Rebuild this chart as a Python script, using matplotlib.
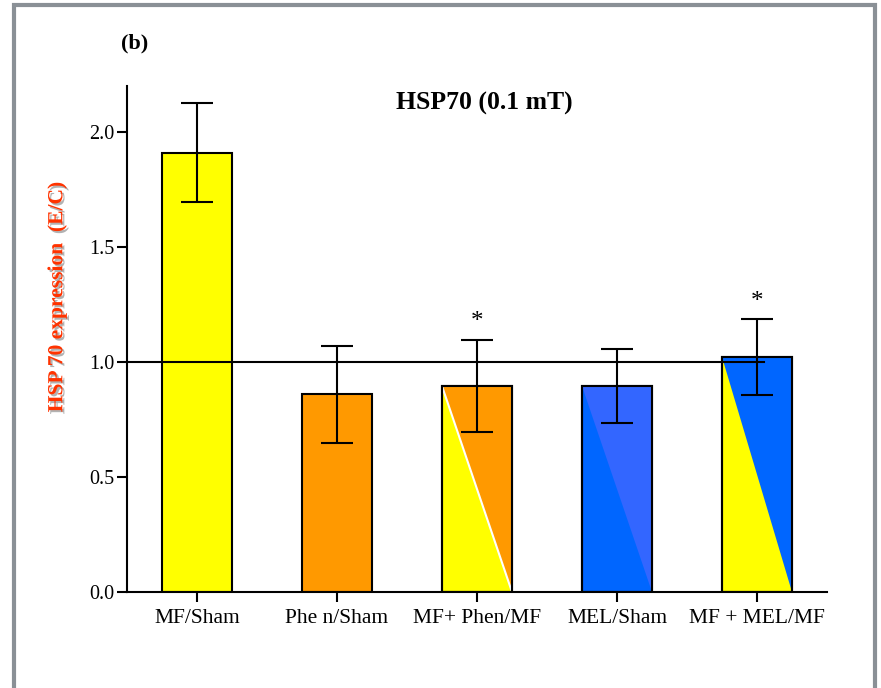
import matplotlib
matplotlib.use("Agg")
import matplotlib.pyplot as plt
import matplotlib.patheffects as pe
from matplotlib.patches import Rectangle

categories = ["MF/Sham", "Phe n/Sham", "MF+ Phen/MF", "MEL/Sham", "MF + MEL/MF"]
values = [1.91, 0.86, 0.895, 0.895, 1.02]
errors = [0.215, 0.21, 0.20, 0.16, 0.165]
significant = [False, False, True, False, True]
ref_level = 1.0

base_colors = ["#FFFF00", "#FF9900", "#FFFF00", "#0066FF", "#FFFF00"]
tri_colors = [None, None, "#FF9900", "#3366FF", "#0066FF"]

plt.rcParams['font.family'] = ['Liberation Serif', 'DejaVu Serif']

fig = plt.figure(figsize=(8.81, 6.88), dpi=100)
ax = fig.add_axes([0.1442, 0.1395, 0.7945, 0.7355])

x = list(range(len(categories)))
width = 0.5
ax.bar(x, values, width=width, color=base_colors, edgecolor="black", linewidth=1.5, zorder=2)

# diagonal triangles (upper-right part)
for xi, v, tc in zip(x, values, tri_colors):
    if tc is None:
        continue
    l, r = xi - width / 2, xi + width / 2
    ax.fill([l, r, r], [v, v, 0], color=tc, zorder=2.5, linewidth=0)
    if tc == "#FF9900":
        ax.plot([l, r], [v, 0], color="white", lw=1.5, zorder=2.6)
    ax.add_patch(Rectangle((l, 0), width, v, fill=False, edgecolor="black", lw=1.5, zorder=2.7))

ax.plot([-0.5, 4.05], [ref_level, ref_level], color="black", lw=1.5, zorder=3)

ax.errorbar(x, values, yerr=errors, fmt="none", ecolor="black", elinewidth=1.5,
            capsize=11.5, capthick=1.5, zorder=4)

for xi, v, e, s in zip(x, values, errors, significant):
    if s:
        ax.text(xi, v + e + 0.03, "*", ha="center", va="bottom", fontsize=18, color="black")

ax.set_xlim(-0.5, 4.5)
ax.set_ylim(0, 2.2)
ax.set_yticks([0.0, 0.5, 1.0, 1.5, 2.0])
ax.set_yticklabels(["0.0", "0.5", "1.0", "1.5", "2.0"])
ax.set_xticks(x)
ax.set_xticklabels(categories)
ax.tick_params(axis="both", direction="out", length=7, width=1.5, color="black")
ax.tick_params(axis="y", labelsize=14.5, pad=2)
ax.tick_params(axis="x", labelsize=15.5, pad=5)
for s in ["top", "right"]:
    ax.spines[s].set_visible(False)
for s in ["left", "bottom"]:
    ax.spines[s].set_linewidth(1.5)

ax.text(0.51, 0.965, "HSP70 (0.1 mT)", transform=ax.transAxes, fontsize=18.5,
        fontweight="bold", ha="center", va="center")

fig.text(0.065, 0.568, "HSP 70 expression  (E/C)", rotation=90, ha="center", va="center",
         fontsize=15.5, fontweight="bold", color="#FF3300",
         path_effects=[pe.withSimplePatchShadow(offset=(1.5, -1.5), shadow_rgbFace="gray", alpha=0.6)])

fig.text(0.137, 0.937, "(b)", fontsize=16, fontweight="bold", ha="left", va="center")

frame = Rectangle((14 / 881, -0.1), (875 - 14) / 881, 1.1 - 5 / 688, transform=fig.transFigure,
                  fill=False, edgecolor="#8A9096", lw=3, clip_on=False)
fig.patches.append(frame)

fig.savefig("out.png", dpi=100)
